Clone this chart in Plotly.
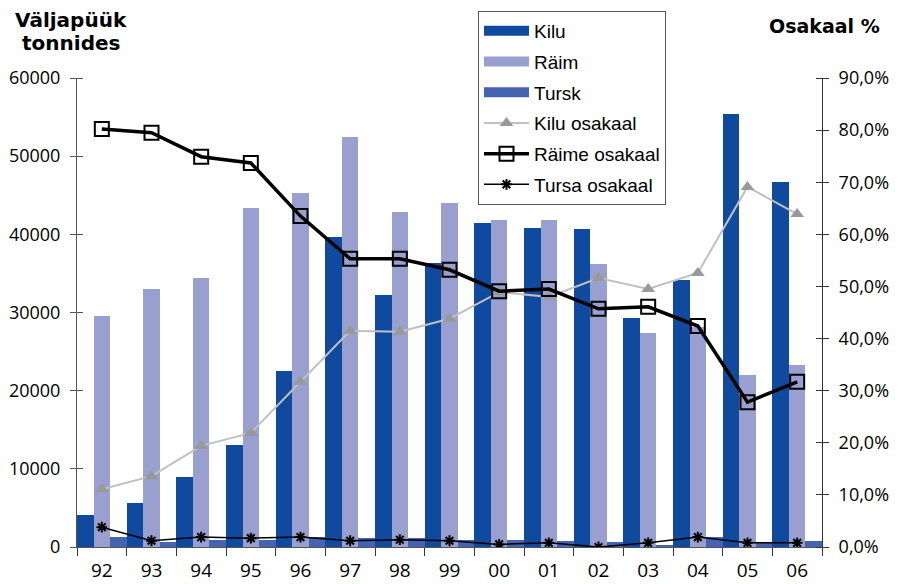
import plotly.graph_objects as go

years = ["92", "93", "94", "95", "96", "97", "98", "99", "00", "01", "02", "03", "04", "05", "06"]
kilu = [4100, 5600, 9000, 13000, 22500, 39700, 32200, 36300, 41500, 40800, 40700, 29300, 34200, 55400, 46700]
raim = [29600, 33000, 34400, 43400, 45300, 52400, 42900, 44000, 41800, 41800, 36200, 27400, 28100, 22000, 23300]
tursk = [1300, 600, 900, 900, 1300, 1150, 1150, 900, 900, 750, 600, 300, 1300, 600, 750]
kilu_os = [0.111, 0.136, 0.194, 0.219, 0.317, 0.415, 0.413, 0.438, 0.489, 0.480, 0.516, 0.495, 0.526, 0.691, 0.639]
raime_os = [0.802, 0.795, 0.749, 0.737, 0.635, 0.553, 0.553, 0.532, 0.491, 0.495, 0.457, 0.461, 0.424, 0.278, 0.317]
tursa_os = [0.038, 0.012, 0.019, 0.017, 0.019, 0.012, 0.014, 0.012, 0.005, 0.008, 0.0, 0.008, 0.019, 0.008, 0.008]

left_ticks = [0, 10000, 20000, 30000, 40000, 50000, 60000]
left_labels = ["0", "10000", "20000", "30000", "40000", "50000", "60000"]
right_ticks = [0.0, 0.1, 0.2, 0.3, 0.4, 0.5, 0.6, 0.7, 0.8, 0.9]
right_labels = ["0,0%", "10,0%", "20,0%", "30,0%", "40,0%", "50,0%", "60,0%", "70,0%", "80,0%", "90,0%"]

TICKFONT = "Open Sans"
C_KILU = "#0F4A9E"
C_RAIM = "#99A0CF"
C_TURSK = "#4563B0"

# page is offset by the 8px body margin; plot area in page pixels: x 77..822, y 78..547
PX0, PX1, PY0, PY1 = 77, 822, 78, 547
def px(x):
    return (x - PX0) / (PX1 - PX0)
def py(y):
    return (PY1 - y) / (PY1 - PY0)

fig = go.Figure()
fig.add_trace(go.Bar(x=years, y=kilu, name="Kilu", marker=dict(color=C_KILU, line=dict(width=0)), showlegend=False))
fig.add_trace(go.Bar(x=years, y=raim, name="Räim", marker=dict(color=C_RAIM, line=dict(width=0)), showlegend=False))
fig.add_trace(go.Bar(x=years, y=tursk, name="Tursk", marker=dict(color=C_TURSK, line=dict(width=0)), showlegend=False))

# legend entries for the bars drawn as wide rectangles
for nm, col, grp in [("Kilu", C_KILU, "a"), ("Räim", C_RAIM, "b"), ("Tursk", C_TURSK, "c")]:
    fig.add_trace(go.Scatter(x=[None], y=[None], name=nm, mode="lines",
                             line=dict(color=col, width=11), legendgroup=grp))

fig.add_trace(go.Scatter(x=years, y=kilu_os, name="Kilu osakaal", yaxis="y2", mode="lines+markers",
                         line=dict(color="#C0C0C0", width=2),
                         marker=dict(symbol="triangle-up", size=12, color="#999999"), legendgroup="d"))
fig.add_trace(go.Scatter(x=years, y=raime_os, name="Räime osakaal", yaxis="y2", mode="lines+markers",
                         line=dict(color="#000000", width=3.5),
                         marker=dict(symbol="square-open", size=14, color="#000000", line=dict(width=2)), legendgroup="e"))
fig.add_trace(go.Scatter(x=years, y=tursa_os, name="Tursa osakaal", yaxis="y2", mode="lines+markers",
                         line=dict(color="#000000", width=1.5),
                         marker=dict(symbol="asterisk-open", size=9, color="#000000", line=dict(width=2, color="#000000")), legendgroup="f"))

fig.update_layout(
    width=891, height=576,
    margin=dict(l=PX0 - 8, r=891 - (PX1 - 8), t=PY0 - 8, b=576 - (PY1 - 8), autoexpand=False),
    paper_bgcolor="white", plot_bgcolor="white",
    barmode="group", bargap=0, bargroupgap=0,
    showlegend=True,
    legend=dict(x=px(478), y=py(11), xanchor="left", yanchor="top",
                bgcolor="white", bordercolor="#555555", borderwidth=1,
                font=dict(family="Liberation Sans", size=19, color="#000000"),
                tracegroupgap=3, itemwidth=45, traceorder="grouped"),
    xaxis=dict(type="category", range=[-0.5, 14.5], tickson="boundaries", ticks="outside", ticklen=8,
               tickcolor="#333333", showline=True, linecolor="#555555", linewidth=1, showgrid=False,
               automargin=False, ticklabelstandoff=6,
               tickfont=dict(family=TICKFONT, size=19, color="#000000")),
    yaxis=dict(range=[0, 60000], tickvals=left_ticks, ticktext=left_labels, ticks="outside", ticklen=6,
               tickcolor="#555555", showline=True, linecolor="#555555", linewidth=1, showgrid=False,
               minor=dict(tickvals=left_ticks, ticks="inside", ticklen=6, tickcolor="#555555"),
               zeroline=False, automargin=False, ticklabelstandoff=6,
               tickfont=dict(family=TICKFONT, size=18, color="#000000")),
    yaxis2=dict(range=[0, 0.9], tickvals=right_ticks, ticktext=right_labels, overlaying="y", side="right",
                ticks="outside", ticklen=6, tickcolor="#333333", showline=True, linecolor="#333333",
                minor=dict(tickvals=right_ticks, ticks="inside", ticklen=6, tickcolor="#333333"),
                linewidth=1, showgrid=False, zeroline=False, automargin=False, ticklabelstandoff=6,
                tickfont=dict(family=TICKFONT, size=18, color="#000000")),
    annotations=[
        dict(text="<b>Väljapüük</b>", xref="paper", yref="paper", x=px(71), y=py(20),
             xanchor="center", yanchor="middle", showarrow=False,
             font=dict(family="DejaVu Sans", size=20, color="#000000")),
        dict(text="<b>tonnides</b>", xref="paper", yref="paper", x=px(71), y=py(43),
             xanchor="center", yanchor="middle", showarrow=False,
             font=dict(family="DejaVu Sans", size=20, color="#000000")),
        dict(text="<b>Osakaal %</b>", xref="paper", yref="paper", x=px(824), y=py(26),
             xanchor="center", yanchor="middle", showarrow=False,
             font=dict(family="DejaVu Sans", size=19, color="#000000")),
    ],
)

fig.write_html("out.html")
